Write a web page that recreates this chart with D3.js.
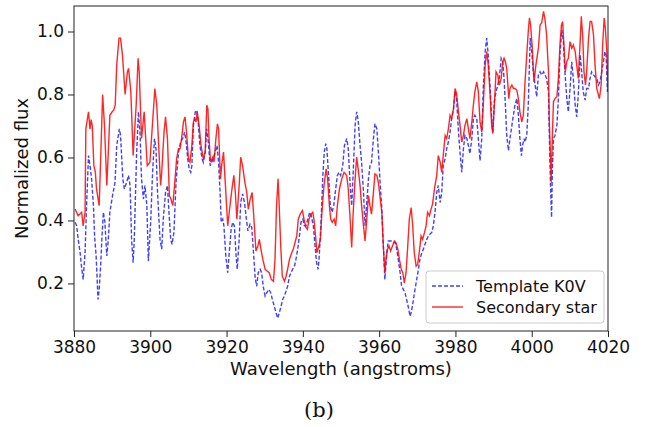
<!DOCTYPE html>
<html>
<head>
<meta charset="utf-8">
<script src="https://cdn.jsdelivr.net/npm/d3@7"></script>
<style>
  body { margin: 0; background: #fff; }
  svg text { font-family: "DejaVu Sans", sans-serif; fill: #111; }
</style>
</head>
<body>
<svg id="chart"></svg>
<script>
// spectra (wavelength in angstroms, normalized flux)
const templateWave = [
  3880.3, 3880.7, 3881.1, 3881.6, 3882.0, 3882.4, 3882.9, 3883.3, 3883.8, 3884.2,
  3884.6, 3885.1, 3885.4, 3885.8, 3886.3, 3886.6, 3887.0, 3887.3, 3887.7, 3888.1,
  3888.6, 3889.0, 3889.4, 3890.1, 3890.75, 3891.2, 3891.9, 3892.2, 3892.8, 3893.2,
  3893.8, 3894.3, 3894.7, 3895.1, 3895.5, 3895.8, 3896.4, 3896.9, 3897.3, 3897.7,
  3898.2, 3898.6, 3899.1, 3899.5, 3900.1, 3900.6, 3901.1, 3901.5, 3901.9, 3902.55,
  3903.0, 3903.4, 3904.0, 3904.5, 3904.9, 3905.35, 3905.7, 3906.2, 3906.75, 3907.4,
  3907.95, 3908.5, 3909.0, 3909.4, 3909.8, 3910.2, 3910.6, 3910.9, 3911.3, 3911.8,
  3912.2, 3912.5, 3913.0, 3913.6, 3913.9, 3914.4, 3914.8, 3915.2, 3915.7, 3916.1,
  3916.5, 3917.0, 3917.5, 3917.9, 3918.3, 3918.6, 3919.0, 3919.3, 3919.8, 3920.3,
  3920.7, 3921.2, 3921.6, 3922.05, 3922.5, 3922.8, 3923.3, 3923.7, 3924.2, 3924.7,
  3925.2, 3925.6, 3926.15, 3926.6, 3927.0, 3927.5, 3927.9, 3928.3, 3928.8, 3929.2,
  3929.6, 3930.1, 3930.5, 3931.1, 3931.6, 3932.0, 3932.5, 3933.0, 3933.4, 3933.8,
  3934.3, 3934.7, 3935.15, 3935.6, 3936.0, 3936.5, 3936.9, 3937.3, 3937.8, 3938.2,
  3938.65, 3939.1, 3939.5, 3940.0, 3940.4, 3940.8, 3941.3, 3941.8, 3942.2, 3942.75,
  3943.2, 3943.6, 3944.0, 3944.3, 3944.8, 3945.2, 3945.6, 3946.0, 3946.3, 3946.8,
  3947.2, 3947.65, 3948.1, 3948.5, 3949.05, 3949.5, 3949.9, 3950.45, 3950.9, 3951.5,
  3951.9, 3952.4, 3952.8, 3953.2, 3953.7, 3954.1, 3954.5, 3955.0, 3955.4, 3955.9,
  3956.3, 3956.7, 3957.2, 3957.6, 3958.0, 3958.5, 3958.9, 3959.4, 3959.8, 3960.2,
  3960.7, 3961.1, 3961.5, 3962.0, 3962.4, 3962.85, 3963.3, 3963.7, 3964.2, 3964.6,
  3965.0, 3965.5, 3965.9, 3966.35, 3966.8, 3967.2, 3967.7, 3968.1, 3968.5, 3969.0,
  3969.4, 3969.85, 3970.3, 3970.7, 3971.2, 3971.6, 3972.0, 3972.5, 3972.9, 3973.3,
  3973.8, 3974.2, 3974.65, 3975.1, 3975.5, 3976.0, 3976.4, 3976.8, 3977.3, 3977.7,
  3978.15, 3978.6, 3979.0, 3979.5, 3979.9, 3980.3, 3980.8, 3981.2, 3981.65, 3982.1,
  3982.5, 3983.0, 3983.4, 3983.8, 3984.3, 3984.7, 3985.1, 3985.6, 3986.0, 3986.45,
  3986.9, 3987.3, 3987.8, 3988.2, 3988.6, 3989.1, 3989.5, 3989.8, 3990.2, 3990.65,
  3991.1, 3991.5, 3992.0, 3992.4, 3992.75, 3993.1, 3993.45, 3993.9, 3994.3, 3994.8,
  3995.2, 3995.6, 3996.1, 3996.5, 3996.9, 3997.3, 3997.6, 3998.0, 3998.25, 3998.7,
  3999.1, 3999.6, 4000.0, 4000.4, 4000.9, 4001.3, 4001.75, 4002.2, 4002.6, 4003.1,
  4003.5, 4003.9, 4004.4, 4004.6, 4004.9, 4005.2, 4005.4, 4005.7, 4006.1, 4006.6,
  4007.0, 4007.4, 4007.9, 4008.3, 4008.7, 4009.2, 4009.6, 4010.05, 4010.5, 4010.9,
  4011.4, 4011.8, 4012.2, 4012.7, 4013.1, 4013.5, 4014.0, 4014.4, 4014.9, 4015.3,
  4015.7, 4016.2, 4016.6, 4017.05, 4017.5, 4017.9, 4018.35, 4018.8, 4019.2, 4019.5,
  4019.85
];
const templateFlux = [
  0.394, 0.383, 0.340, 0.298, 0.250, 0.213, 0.298, 0.450, 0.606, 0.574,
  0.532, 0.447, 0.350, 0.287, 0.149, 0.181, 0.260, 0.340, 0.426, 0.394,
  0.287, 0.340, 0.426, 0.479, 0.521, 0.638, 0.691, 0.670, 0.532, 0.500,
  0.521, 0.543, 0.511, 0.340, 0.266, 0.340, 0.606, 0.745, 0.681, 0.532,
  0.468, 0.511, 0.447, 0.271, 0.394, 0.553, 0.660, 0.628, 0.489, 0.340,
  0.309, 0.404, 0.489, 0.511, 0.426, 0.340, 0.324, 0.362, 0.521, 0.617,
  0.649, 0.660, 0.681, 0.649, 0.596, 0.564, 0.553, 0.574, 0.702, 0.745,
  0.750, 0.723, 0.638, 0.596, 0.585, 0.617, 0.691, 0.649, 0.574, 0.585,
  0.596, 0.617, 0.638, 0.585, 0.489, 0.394, 0.404, 0.383, 0.287, 0.234,
  0.298, 0.372, 0.394, 0.383, 0.287, 0.245, 0.340, 0.457, 0.484, 0.457,
  0.404, 0.367, 0.388, 0.378, 0.309, 0.218, 0.191, 0.234, 0.245, 0.234,
  0.191, 0.160, 0.170, 0.181, 0.170, 0.149, 0.128, 0.106, 0.090, 0.106,
  0.128, 0.149, 0.160, 0.176, 0.191, 0.223, 0.234, 0.245, 0.255, 0.277,
  0.309, 0.351, 0.394, 0.404, 0.383, 0.383, 0.404, 0.426, 0.415, 0.383,
  0.319, 0.266, 0.245, 0.287, 0.404, 0.532, 0.617, 0.644, 0.628, 0.532,
  0.447, 0.426, 0.447, 0.489, 0.543, 0.553, 0.543, 0.574, 0.638, 0.660,
  0.628, 0.511, 0.447, 0.553, 0.702, 0.745, 0.718, 0.638, 0.585, 0.489,
  0.383, 0.447, 0.532, 0.574, 0.585, 0.660, 0.707, 0.691, 0.617, 0.532,
  0.436, 0.319, 0.213, 0.298, 0.335, 0.335, 0.335, 0.330, 0.330, 0.309,
  0.277, 0.234, 0.191, 0.181, 0.170, 0.149, 0.122, 0.096, 0.112, 0.149,
  0.181, 0.213, 0.245, 0.277, 0.298, 0.309, 0.324, 0.340, 0.351, 0.356,
  0.362, 0.383, 0.426, 0.489, 0.511, 0.457, 0.489, 0.574, 0.596, 0.628,
  0.649, 0.681, 0.723, 0.755, 0.809, 0.787, 0.681, 0.617, 0.553, 0.628,
  0.670, 0.660, 0.638, 0.612, 0.660, 0.723, 0.734, 0.723, 0.660, 0.590,
  0.660, 0.819, 0.936, 0.979, 0.926, 0.819, 0.723, 0.681, 0.777, 0.809,
  0.830, 0.851, 0.915, 0.904, 0.851, 0.766, 0.670, 0.622, 0.660, 0.702,
  0.734, 0.766, 0.787, 0.734, 0.660, 0.606, 0.638, 0.660, 0.649, 0.670,
  0.766, 0.979, 0.936, 0.872, 0.830, 0.793, 0.862, 0.872, 0.862, 0.872,
  0.862, 0.851, 0.809, 0.681, 0.521, 0.410, 0.553, 0.660, 0.670, 0.702,
  0.787, 0.926, 1.005, 0.968, 0.872, 0.787, 0.745, 0.819, 0.904, 0.851,
  0.766, 0.729, 0.798, 0.926, 0.872, 0.809, 0.782, 0.819, 0.819, 0.851,
  0.872, 0.862, 0.856, 0.851, 0.830, 0.840, 0.872, 0.904, 0.936, 0.926,
  0.809
];

const secondaryWave = [
  3880.3, 3881.1, 3882.0, 3882.4, 3882.9, 3883.1, 3883.8, 3884.2, 3884.5, 3884.8,
  3885.2, 3885.6, 3885.9, 3886.3, 3886.6, 3887.0, 3887.5, 3888.0, 3888.6, 3889.0,
  3889.4, 3890.0, 3890.4, 3890.8, 3891.2, 3891.8, 3892.2, 3892.7, 3893.4, 3894.0,
  3894.3, 3894.9, 3895.5, 3896.3, 3896.8, 3897.1, 3897.7, 3898.4, 3899.2, 3899.9,
  3901.2, 3901.7, 3902.7, 3903.0, 3903.6, 3904.0, 3904.5, 3905.0, 3905.4, 3905.9,
  3906.5, 3906.9, 3907.4, 3907.8, 3908.2, 3908.7, 3909.1, 3909.5, 3910.0, 3910.4,
  3910.9, 3911.3, 3911.7, 3912.0, 3912.3, 3912.8, 3913.3, 3913.9, 3914.4, 3914.8,
  3915.1, 3915.4, 3915.8, 3916.4, 3916.7, 3917.2, 3917.6, 3917.9, 3918.4, 3918.7,
  3919.2, 3919.6, 3920.3, 3920.7, 3921.3, 3921.9, 3922.3, 3922.7, 3923.3, 3923.7,
  3924.2, 3924.8, 3925.3, 3925.7, 3926.2, 3926.7, 3927.2, 3927.7, 3928.2, 3928.6,
  3929.0, 3929.5, 3930.1, 3930.7, 3931.2, 3931.7, 3932.3, 3932.7, 3933.1, 3933.5,
  3933.8, 3934.2, 3934.6, 3935.2, 3935.6, 3936.0, 3936.5, 3937.1, 3937.5, 3937.95,
  3938.4, 3938.8, 3939.3, 3939.9, 3940.3, 3940.8, 3941.2, 3941.6, 3942.15, 3942.6,
  3942.9, 3943.4, 3943.7, 3944.2, 3944.6, 3945.0, 3945.55, 3946.1, 3946.5, 3946.95,
  3947.3, 3947.7, 3948.2, 3948.6, 3949.05, 3949.6, 3950.2, 3950.8, 3951.5, 3951.9,
  3952.4, 3952.8, 3953.2, 3953.7, 3954.1, 3954.5, 3955.0, 3955.4, 3955.9, 3956.3,
  3956.7, 3957.2, 3957.6, 3958.0, 3958.5, 3958.9, 3959.4, 3959.8, 3960.2, 3960.7,
  3961.1, 3961.5, 3961.8, 3962.2, 3962.6, 3963.0, 3963.5, 3964.0, 3964.4, 3964.9,
  3965.3, 3965.8, 3966.2, 3966.6, 3967.05, 3967.5, 3967.9, 3968.4, 3968.8, 3969.2,
  3969.7, 3970.1, 3970.5, 3971.0, 3971.4, 3971.9, 3972.3, 3972.7, 3973.2, 3973.6,
  3974.0, 3974.5, 3975.1, 3975.5, 3976.0, 3976.4, 3976.8, 3977.3, 3977.7, 3978.15,
  3978.6, 3979.0, 3979.5, 3979.9, 3980.3, 3980.8, 3981.2, 3981.65, 3982.1, 3982.5,
  3983.0, 3983.4, 3983.8, 3984.3, 3984.7, 3985.1, 3985.6, 3986.0, 3986.45, 3986.9,
  3987.3, 3987.8, 3988.2, 3988.6, 3989.1, 3989.5, 3989.8, 3990.2, 3990.65, 3991.1,
  3991.5, 3992.0, 3992.4, 3992.75, 3993.1, 3993.45, 3994.0, 3994.3, 3994.8, 3995.2,
  3995.6, 3996.1, 3996.5, 3996.9, 3997.4, 3997.8, 3998.25, 3998.7, 3999.1, 3999.4,
  3999.7, 4000.1, 4000.6, 4001.1, 4001.75, 4002.2, 4002.6, 4003.1, 4003.5, 4003.9,
  4004.4, 4004.6, 4004.9, 4005.1, 4005.4, 4005.7, 4006.1, 4006.6, 4007.0, 4007.4,
  4007.8, 4008.1, 4008.5, 4008.8, 4009.2, 4009.6, 4010.05, 4010.5, 4010.9, 4011.4,
  4011.8, 4012.2, 4012.7, 4013.0, 4013.4, 4013.7, 4014.1, 4014.4, 4014.9, 4015.3,
  4015.7, 4016.2, 4016.6, 4017.05, 4017.5, 4017.75, 4018.2, 4018.6, 4019.0, 4019.3,
  4019.7, 4020.0
];
const secondaryFlux = [
  0.436, 0.415, 0.426, 0.383, 0.426, 0.690, 0.745, 0.690, 0.720, 0.700,
  0.575, 0.553, 0.500, 0.470, 0.447, 0.600, 0.800, 0.700, 0.511, 0.620,
  0.734, 0.745, 0.750, 0.766, 0.894, 0.979, 0.979, 0.926, 0.800, 0.872,
  0.883, 0.809, 0.606, 0.766, 0.915, 0.872, 0.660, 0.745, 0.574, 0.585,
  0.819, 0.766, 0.511, 0.553, 0.681, 0.729, 0.660, 0.479, 0.468, 0.447,
  0.532, 0.596, 0.628, 0.628, 0.660, 0.713, 0.729, 0.681, 0.596, 0.585,
  0.638, 0.713, 0.723, 0.713, 0.745, 0.702, 0.638, 0.596, 0.617, 0.766,
  0.755, 0.660, 0.585, 0.601, 0.585, 0.660, 0.707, 0.691, 0.532, 0.574,
  0.617, 0.532, 0.383, 0.426, 0.489, 0.543, 0.489, 0.404, 0.511, 0.601,
  0.574, 0.521, 0.489, 0.436, 0.468, 0.489, 0.400, 0.303, 0.319, 0.340,
  0.309, 0.277, 0.245, 0.239, 0.234, 0.213, 0.207, 0.277, 0.447, 0.532,
  0.447, 0.319, 0.223, 0.207, 0.223, 0.245, 0.277, 0.298, 0.309, 0.330,
  0.351, 0.404, 0.420, 0.431, 0.404, 0.378, 0.372, 0.404, 0.420, 0.426,
  0.404, 0.340, 0.298, 0.319, 0.340, 0.426, 0.511, 0.564, 0.532, 0.447,
  0.404, 0.394, 0.404, 0.383, 0.447, 0.500, 0.532, 0.553, 0.543, 0.500,
  0.404, 0.314, 0.426, 0.532, 0.601, 0.564, 0.511, 0.447, 0.383, 0.335,
  0.394, 0.479, 0.447, 0.420, 0.489, 0.548, 0.543, 0.521, 0.479, 0.426,
  0.319, 0.234, 0.277, 0.309, 0.319, 0.303, 0.319, 0.335, 0.330, 0.309,
  0.277, 0.245, 0.234, 0.202, 0.234, 0.319, 0.404, 0.441, 0.383, 0.298,
  0.255, 0.260, 0.298, 0.351, 0.340, 0.362, 0.383, 0.426, 0.415, 0.436,
  0.452, 0.500, 0.543, 0.606, 0.585, 0.553, 0.606, 0.670, 0.660, 0.691,
  0.734, 0.723, 0.755, 0.819, 0.803, 0.745, 0.702, 0.649, 0.670, 0.702,
  0.723, 0.691, 0.660, 0.713, 0.766, 0.809, 0.840, 0.809, 0.713, 0.681,
  0.766, 0.894, 0.936, 0.894, 0.798, 0.702, 0.676, 0.766, 0.872, 0.862,
  0.830, 0.851, 0.904, 0.915, 0.904, 0.883, 0.787, 0.819, 0.830, 0.819,
  0.819, 0.814, 0.787, 0.745, 0.713, 0.734, 0.840, 0.926, 1.000, 1.043,
  1.021, 0.957, 0.840, 0.894, 0.947, 1.021, 1.027, 1.064, 1.037, 0.989,
  0.872, 0.723, 0.606, 0.521, 0.660, 0.777, 0.787, 0.793, 0.851, 0.957,
  1.021, 1.032, 0.947, 0.872, 0.904, 0.915, 0.968, 0.947, 0.957, 0.936,
  0.894, 0.851, 0.968, 1.048, 0.979, 0.872, 0.830, 0.872, 0.979, 1.032,
  1.032, 0.989, 0.894, 0.819, 0.798, 0.787, 0.830, 0.957, 1.043, 1.011,
  0.936, 0.809
];

const xTicks = [3880, 3900, 3920, 3940, 3960, 3980, 4000, 4020];
const yTicks = [0.2, 0.4, 0.6, 0.8, 1.0];
const seriesNames = ["Template K0V", "Secondary star"];

const width = 654;
const height = 427;
const margin = { top: 6, right: 46, bottom: 96, left: 74 };

const svg = d3.select("#chart")
  .attr("width", width)
  .attr("height", height);

const x = d3.scaleLinear()
  .domain([3880, 4020])
  .range([margin.left, width - margin.right]);

const y = d3.scaleLinear()
  .domain([0.049, 1.081])
  .range([height - margin.bottom, margin.top]);

svg.append("defs").append("clipPath")
  .attr("id", "plot-clip")
  .append("rect")
  .attr("x", margin.left)
  .attr("y", margin.top)
  .attr("width", width - margin.left - margin.right)
  .attr("height", height - margin.top - margin.bottom);

const line = d3.line()
  .x(d => x(d[0]))
  .y(d => y(d[1]));

const template = templateWave.map((w, i) => [w, templateFlux[i]]);
const secondary = secondaryWave.map((w, i) => [w, secondaryFlux[i]]);

const plot = svg.append("g").attr("clip-path", "url(#plot-clip)");

plot.append("path")
  .datum(template)
  .attr("fill", "none")
  .attr("stroke", "#0000ff")
  .attr("stroke-opacity", 0.75)
  .attr("stroke-width", 1.4)
  .attr("stroke-dasharray", "4,2")
  .attr("d", line);

plot.append("path")
  .datum(secondary)
  .attr("fill", "none")
  .attr("stroke", "#ff0000")
  .attr("stroke-opacity", 0.85)
  .attr("stroke-width", 1.4)
  .attr("d", line);

// axes
const xAxis = svg.append("g")
  .attr("transform", `translate(0,${height - margin.bottom})`)
  .call(d3.axisBottom(x).tickValues(xTicks).tickFormat(d3.format("d")).tickSize(6).tickPadding(4));

const yAxis = svg.append("g")
  .attr("transform", `translate(${margin.left},0)`)
  .call(d3.axisLeft(y).tickValues(yTicks).tickFormat(d3.format(".1f")).tickSize(6).tickPadding(4));

[xAxis, yAxis].forEach(g => {
  g.select(".domain").remove();
  g.selectAll("line").attr("stroke", "#222").attr("stroke-width", 1);
  g.selectAll("text").attr("font-size", 17).attr("fill", "#111")
    .style("font-family", "'DejaVu Sans', sans-serif");
});

// frame
svg.append("rect")
  .attr("x", margin.left)
  .attr("y", margin.top)
  .attr("width", width - margin.left - margin.right)
  .attr("height", height - margin.top - margin.bottom)
  .attr("fill", "none")
  .attr("stroke", "#222")
  .attr("stroke-width", 1);

svg.append("text")
  .attr("x", (margin.left + width - margin.right) / 2)
  .attr("y", 375)
  .attr("text-anchor", "middle")
  .attr("font-size", 18)
  .text("Wavelength (angstroms)");

svg.append("text")
  .attr("transform", `translate(28,${(margin.top + height - margin.bottom) / 2}) rotate(-90)`)
  .attr("text-anchor", "middle")
  .attr("font-size", 18)
  .text("Normalized flux");

svg.append("text")
  .attr("x", 319)
  .attr("y", 417)
  .attr("text-anchor", "middle")
  .attr("font-size", 21)
  .style("font-family", "'DejaVu Serif', 'Liberation Serif', serif")
  .text("(b)");

// legend
const legend = svg.append("g").attr("transform", "translate(426,271)");
legend.append("rect")
  .attr("width", 178)
  .attr("height", 52)
  .attr("rx", 3)
  .attr("fill", "#fff")
  .attr("fill-opacity", 0.8)
  .attr("stroke", "#ccc")
  .attr("stroke-width", 1);

const legendStyles = [
  { color: "#0000ff", opacity: 0.75, dash: "4,2" },
  { color: "#ff0000", opacity: 0.85, dash: null }
];

seriesNames.forEach((name, i) => {
  const yy = 15 + i * 21;
  legend.append("line")
    .attr("x1", 6).attr("x2", 37)
    .attr("y1", yy).attr("y2", yy)
    .attr("stroke", legendStyles[i].color)
    .attr("stroke-opacity", legendStyles[i].opacity)
    .attr("stroke-width", 1.4)
    .attr("stroke-dasharray", legendStyles[i].dash);
  legend.append("text")
    .attr("x", 50)
    .attr("y", yy + 5.5)
    .attr("font-size", 16)
    .text(name);
});
</script>
</body>
</html>
